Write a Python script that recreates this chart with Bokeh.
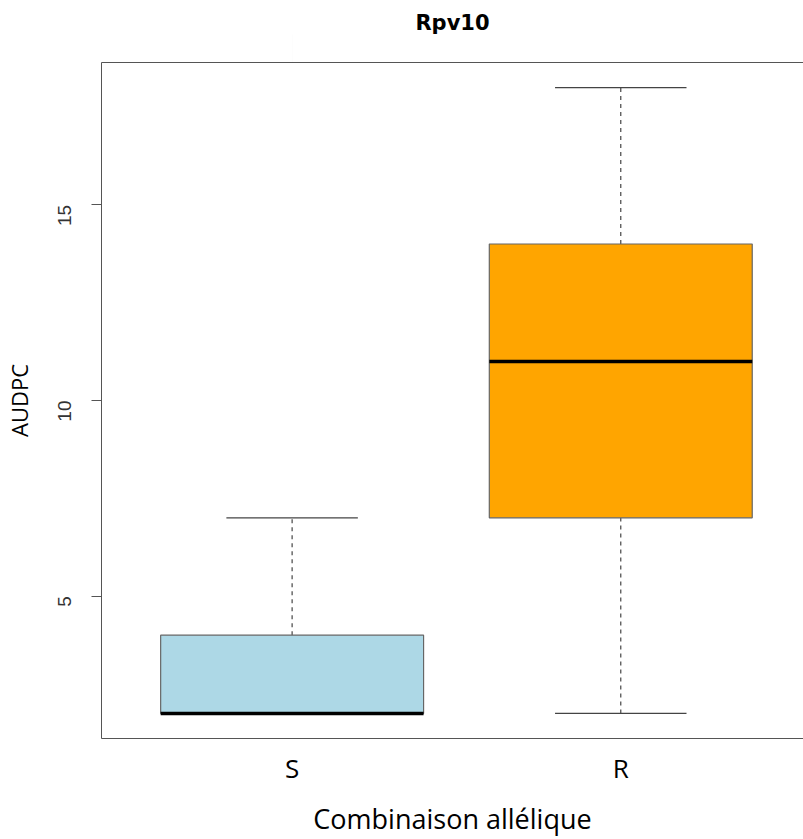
import math
import numpy as np
from bokeh.plotting import figure
from bokeh.models import FixedTicker, LinearAxis, Range1d
from bokeh.embed import file_html
from bokeh.resources import INLINE

# ---- data ----
categories = ["S", "R"]
lower_whisker = [2, 2]
q1 = [2, 7]
median = [2, 11]
q3 = [4, 14]
upper_whisker = [7, 18]
box_colors = ["#ADD8E6", "#FFA500"]
y_ticks = [5, 10, 15]

xs = np.arange(1, len(categories) + 1, dtype=float)
box_w = 0.8
cap_w = 0.4

p = figure(width=803, height=839, output_backend="svg", toolbar_location=None,
           x_range=Range1d(0.42, 2.556), y_range=Range1d(1.36, 18.64),
           min_border_left=100, min_border_top=62, min_border_bottom=99,
           min_border_right=0, title="Rpv10")
p.outline_line_color = None
p.grid.visible = False
p.background_fill_color = "white"
p.border_fill_color = "white"

# title
p.title.align = "center"
p.title.text_font = "DejaVu Sans"
p.title.text_font_size = "21px"
p.title.text_font_style = "bold"
p.title.text_color = "black"
p.title.standoff = 0

# whiskers (dashed)
p.segment(x0=xs, y0=q3, x1=xs, y1=upper_whisker, line_color="#444444",
          line_width=1.2, line_dash="4 4")
p.segment(x0=xs, y0=lower_whisker, x1=xs, y1=q1, line_color="#444444",
          line_width=1.2, line_dash="4 4")
# caps
p.segment(x0=xs - cap_w / 2, y0=upper_whisker, x1=xs + cap_w / 2, y1=upper_whisker,
          line_color="#444444", line_width=1.3)
p.segment(x0=xs - cap_w / 2, y0=lower_whisker, x1=xs + cap_w / 2, y1=lower_whisker,
          line_color="#444444", line_width=1.3)
# boxes
p.vbar(x=xs, width=box_w, bottom=q1, top=q3, fill_color=box_colors,
       line_color="#666666", line_width=1.2)
# medians
p.segment(x0=xs - box_w / 2, y0=median, x1=xs + box_w / 2, y1=median,
          line_color="black", line_width=3.5)

# left axis
ya = p.yaxis[0]
ya.ticker = FixedTicker(ticks=y_ticks)
ya.axis_line_color = "#555555"
ya.major_tick_line_color = "#555555"
ya.major_tick_out = 10
ya.major_tick_in = 0
ya.minor_tick_line_color = None
ya.major_label_orientation = math.pi / 2
ya.major_label_text_font = "Liberation Sans"
ya.major_label_text_font_size = "19px"
ya.major_label_text_color = "#333333"
ya.major_label_standoff = 27
ya.axis_label = "AUDPC"
ya.axis_label_text_font = "Open Sans"
ya.axis_label_text_font_size = "22px"
ya.axis_label_text_font_style = "normal"
ya.axis_label_text_color = "black"
ya.axis_label_standoff = 15

# bottom axis
xa = p.xaxis[0]
xa.ticker = FixedTicker(ticks=list(xs))
xa.major_label_overrides = {float(x): c for x, c in zip(xs, categories)}
xa.axis_line_color = "#555555"
xa.major_tick_line_color = None
xa.major_tick_out = 0
xa.major_tick_in = 0
xa.minor_tick_line_color = None
xa.major_label_text_font = "Open Sans"
xa.major_label_text_font_size = "26px"
xa.major_label_text_color = "black"
xa.major_label_standoff = 11
xa.axis_label = "Combinaison allélique"
xa.axis_label_text_font = "Open Sans"
xa.axis_label_text_font_size = "27px"
xa.axis_label_text_font_style = "normal"
xa.axis_label_text_color = "black"
xa.axis_label_standoff = 11

# top border drawn as a bare axis; one near-transparent tick spaces the title
top = LinearAxis(ticker=FixedTicker(ticks=[float(xs[0])]), axis_line_color="#555555",
                 major_tick_line_color="#555555", major_tick_line_alpha=0.01,
                 minor_tick_line_color=None,
                 major_label_overrides={float(xs[0]): ""},
                 major_label_text_font_size="0px", major_label_standoff=0,
                 major_tick_out=28, major_tick_in=0, minor_tick_out=0)
p.add_layout(top, "above")

open("out.html", "w").write(file_html(p, INLINE))
